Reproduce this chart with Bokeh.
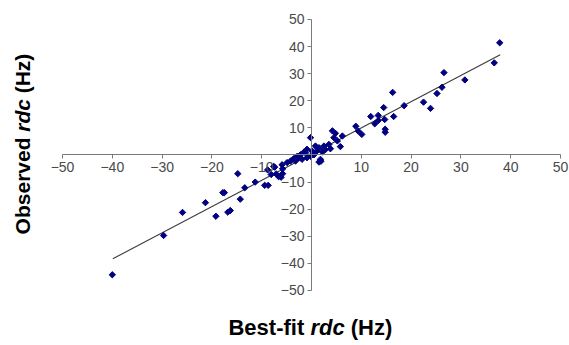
import math
from bokeh.plotting import figure
from bokeh.models import LinearAxis, FixedTicker, Label, Range1d
from bokeh.embed import file_html
from bokeh.resources import INLINE

# ---- data ----
best_fit = [37.8, 36.7, 26.6, 30.8, 26.2, 25.2, 16.3, 22.5, 23.9, 18.6, 14.5, 11.9,
            13.4, 16.5, 14.7, 13.4, 12.7, 14.8, 14.8, 8.9, 9.4, 10.1,
            -0.2, 4.2, 4.8, 4.5, 5.8, 5.2, 3.5, 2.5, 1.5, 0.8, -0.9, -1.5, -2.2,
            -2.9, -3.6, -4.2, -4.9, 1.8, 1.5, 2.2, 0.5, -0.2, -0.9, -1.9, -1.2,
            1.1, 2.8, 3.8, -3.2, -2.6, -7.6, -5.9, 6.2, 0.1, 1.9,
            -40.0, -29.7, -25.9, -21.3, -19.2, -17.8, -17.5, -16.8, -16.3, -14.8,
            -14.3, -13.4, -11.3, -9.4, -8.7, -7.4, -6.1, -5.8, -8.1, -7.1, -6.6,
            -8.8, -5.8]
observed = [41.4, 34.0, 30.4, 27.7, 25.0, 22.7, 23.1, 19.5, 17.2, 18.2, 17.5, 14.2,
            14.6, 14.2, 13.1, 12.7, 11.5, 9.5, 8.4, 10.6, 8.8, 7.6,
            6.4, 8.9, 8.0, 6.4, 3.1, 5.2, 3.9, 3.3, 2.7, 3.3, 2.1, 1.1, 0.1,
            -0.5, -1.4, -2.2, -2.8, -1.6, -2.6, 1.1, 0.1, -0.5, -1.0, -1.6, 0.8,
            1.5, 2.0, 2.3, -2.2, -1.0, -4.2, -3.6, 7.0, 1.5, -2.3,
            -44.2, -29.7, -21.2, -17.6, -22.6, -13.9, -13.9, -21.1, -20.5, -6.9,
            -16.3, -12.1, -10.0, -11.2, -11.2, -4.5, -8.2, -6.9, -7.2, -7.0, -8.0,
            -5.5, -5.1]
fit_x = [-39.9, 37.9]
fit_y = [-38.3, 37.0]
tick_values = [-50, -40, -30, -20, -10, 0, 10, 20, 30, 40, 50]
axis_bounds = (-50, 50)

# frame fills the whole canvas; ranges are extended to leave room for the titles
p = figure(width=569, height=345, output_backend="svg", toolbar_location=None,
           x_axis_location=None, y_axis_location=None,
           x_range=Range1d(-62.45, 51.81), y_range=Range1d(-70.30, 57.01),
           min_border=0)
p.outline_line_color = None
p.xgrid.visible = False
p.ygrid.visible = False
p.background_fill_color = "white"
p.border_fill_color = "white"

for side in ("below", "left"):
    ax = LinearAxis(fixed_location=0, ticker=FixedTicker(ticks=tick_values),
                    bounds=axis_bounds)
    ax.axis_line_color = "#7a7a7a"
    ax.major_tick_line_color = "#7a7a7a"
    ax.major_tick_out = 4
    ax.major_tick_in = 0
    ax.minor_tick_line_color = None
    ax.major_label_text_font = "Liberation Sans"
    ax.major_label_text_font_size = "14px"
    ax.major_label_text_color = "#4a4a4a"
    ax.major_label_overrides = {0: ""}
    ax.major_label_standoff = 3
    p.add_layout(ax, side)

p.line(fit_x, fit_y, line_color="#3a3a3a", line_width=1.1)
p.scatter(best_fit, observed, marker="square", angle=math.pi / 4, size=4.5,
          fill_color="#000080", line_color="#000080")

def lab(x, y, text, style, size, angle=0.0):
    p.add_layout(Label(x=x, y=y, text=text, text_font="Liberation Sans",
                       text_font_style=style, text_font_size=size, text_color="black",
                       text_align="left", text_baseline="alphabetic", angle=angle))

xt_y = -63.65
lab(-16.67, xt_y, "Best-fit", "bold", "22px")
lab(-0.22, xt_y, "rdc", "bold italic", "22px")
lab(7.87, xt_y, "(Hz)", "bold", "22px")

yt_x = -58.0
lab(yt_x, -29.3, "Observed", "bold", "21px", math.pi / 2)
lab(yt_x, 8.56, "rdc", "bold italic", "21px", math.pi / 2)
lab(yt_x, 22.77, "(Hz)", "bold", "21px", math.pi / 2)

open("out.html", "w").write(file_html(p, INLINE))
